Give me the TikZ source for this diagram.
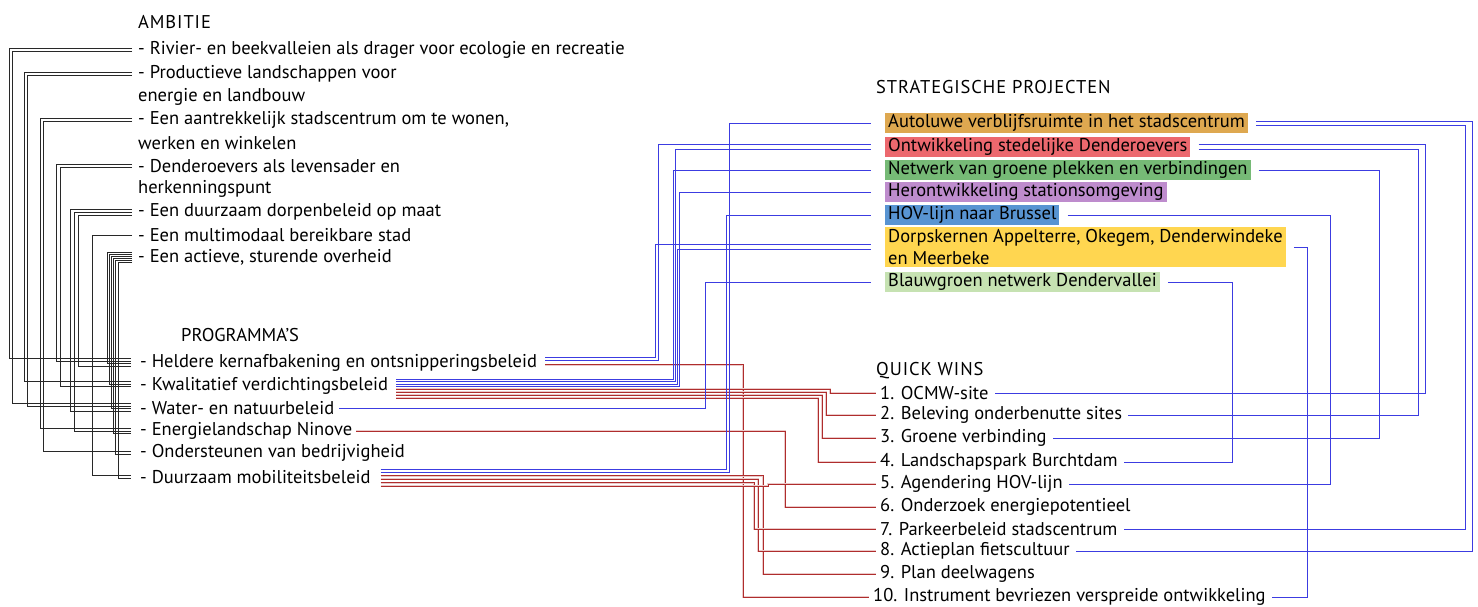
\documentclass[tikz,border=0pt]{standalone}
\usepackage{fontspec}
\setmainfont{PT Sans}
\usetikzlibrary{calc}
\definecolor{cSa}{RGB}{222,168,80}
\definecolor{cSb}{RGB}{236,104,110}
\definecolor{cSc}{RGB}{118,186,118}
\definecolor{cSd}{RGB}{190,140,205}
\definecolor{cSe}{RGB}{88,148,210}
\definecolor{cSf}{RGB}{255,214,80}
\definecolor{cSg}{RGB}{198,226,178}
\definecolor{lb}{RGB}{60,60,225}
\definecolor{lr}{RGB}{175,45,45}
\definecolor{lk}{RGB}{40,40,40}
\newcommand\elbow[4]{\draw[#1] let \p1=(#2), \p2=(#4) in (\p1) -- (#3,\y1) -- (#3,\y2) -- (\p2);}
\begin{document}
\begin{tikzpicture}[x=1pt,y=-1pt,
  txt/.style={inner sep=0pt, anchor=west, font=\fontsize{18.5}{22.5}\selectfont},
  head/.style={txt, font=\fontsize{18.5}{22.5}\selectfont\addfontfeatures{LetterSpace=5}},
  proj/.style={txt, inner xsep=3pt, inner ysep=0pt, minimum height=20pt, fill=#1},
  blk/.style={draw=lk, line width=0.65pt},
  bl/.style={draw=lb, line width=0.8pt},
  rd/.style={draw=lr, line width=0.6pt, preaction={draw=lr!25, line width=2pt}}]
\useasboundingbox (0,0) rectangle (1478,606);
% headings
\node[head] (h1) at (138,22) {AMBITIE};
\node[txt] (h2) at (181,335) {PROGRAMMA'S};
\node[head] (h3) at (876,87) {STRATEGISCHE PROJECTEN};
\node[head] (h4) at (876,371) {QUICK WINS};
% ambities
\node[txt] (a1) at (138,50) {- Rivier- en beekvalleien als drager voor ecologie en recreatie};
\node[txt] (a2) at (138,74) {- Productieve landschappen voor};
\node[txt] (a2b) at (138,97) {energie en landbouw};
\node[txt] (a3) at (138,120) {- Een aantrekkelijk stadscentrum om te wonen,};
\node[txt] (a3b) at (138,143) {werken en winkelen};
\node[txt] (a4) at (138,166) {- Denderoevers als levensader en};
\node[txt] (a4b) at (138,189) {herkenningspunt};
\node[txt] (a5) at (138,212) {- Een duurzaam dorpenbeleid op maat};
\node[txt] (a6) at (138,235) {- Een multimodaal bereikbare stad};
\node[txt] (a7) at (138,257) {- Een actieve, sturende overheid};
% programma's
\node[txt] (p1) at (140,363) {- Heldere kernafbakening en ontsnipperingsbeleid};
\node[txt] (p2) at (140,386) {- Kwalitatief verdichtingsbeleid};
\node[txt] (p3) at (140,408) {- Water- en natuurbeleid};
\node[txt] (p4) at (140,431) {- Energielandschap Ninove};
\node[txt] (p5) at (140,453) {- Ondersteunen van bedrijvigheid};
\node[txt] (p6) at (140,477) {- Duurzaam mobiliteitsbeleid};
% strategische projecten
\node[proj=cSa] (s1) at (885,123) {Autoluwe verblijfsruimte in het stadscentrum};
\node[proj=cSb] (s2) at (885,147) {Ontwikkeling stedelijke Denderoevers};
\node[proj=cSc] (s3) at (885,170) {Netwerk van groene plekken en verbindingen};
\node[proj=cSd] (s4) at (885,192) {Herontwikkeling stationsomgeving};
\node[proj=cSe] (s5) at (885,215) {HOV-lijn naar Brussel};
\node[proj=cSf, align=left, minimum height=40pt] (s6) at (885,247) {Dorpskernen Appelterre, Okegem, Denderwindeke\\en Meerbeke};
\node[proj=cSg] (s7) at (885,282) {Blauwgroen netwerk Dendervallei};
% quick wins
\node[txt] (q1) at (880,393) {1. OCMW-site};
\node[txt] (q2) at (880,415) {2. Beleving onderbenutte sites};
\node[txt] (q3) at (880,438) {3. Groene verbinding};
\node[txt] (q4) at (880,462) {4. Landschapspark Burchtdam};
\node[txt] (q5) at (880,484) {5. Agendering HOV-lijn};
\node[txt] (q6) at (880,507) {6. Onderzoek energiepotentieel};
\node[txt] (q7) at (880,529) {7. Parkeerbeleid stadscentrum};
\node[txt] (q8) at (880,551) {8. Actieplan fietscultuur};
\node[txt] (q9) at (880,574) {9. Plan deelwagens};
\node[txt] (q10) at (873,597) {10. Instrument bevriezen verspreide ontwikkeling};
% ambitie -> programma (black)
\elbow{blk}{[xshift=-6pt,yshift=1.5pt]a1.west}{9pt}{[xshift=-9pt,yshift=4.5pt]p1.west}
\elbow{blk}{[xshift=-6pt,yshift=-1.5pt]a1.west}{12pt}{[xshift=-9pt,yshift=4.5pt]p3.west}
\elbow{blk}{[xshift=-6pt,yshift=1.5pt]a2.west}{24pt}{[xshift=-9pt,yshift=4.5pt]p2.west}
\elbow{blk}{[xshift=-6pt,yshift=-1.5pt]a2.west}{27pt}{[xshift=-9pt,yshift=2pt]p3.west}
\elbow{blk}{[xshift=-6pt,yshift=1.5pt]a3.west}{40pt}{[xshift=-9pt,yshift=2.5pt]p4.west}
\elbow{blk}{[xshift=-6pt,yshift=-1.5pt]a3.west}{43pt}{[xshift=-9pt,yshift=1.5pt]p5.west}
\elbow{blk}{[xshift=-6pt,yshift=1.5pt]a4.west}{56pt}{[xshift=-9pt,yshift=2pt]p1.west}
\elbow{blk}{[xshift=-6pt,yshift=-1.5pt]a4.west}{60pt}{[xshift=-9pt,yshift=-0.5pt]p2.west}
\elbow{blk}{[xshift=-6pt,yshift=3pt]a5.west}{70pt}{[xshift=-9pt,yshift=-3pt]p3.west}
\elbow{blk}{[xshift=-6pt]a5.west}{74pt}{[xshift=-9pt]p4.west}
\elbow{blk}{[xshift=-6pt,yshift=-3pt]a5.west}{78pt}{[xshift=-9pt,yshift=-3pt]p1.west}
\elbow{blk}{[xshift=-6pt]a6.west}{92pt}{[xshift=-9pt,yshift=1.5pt]p6.west}
\elbow{blk}{[xshift=-6pt,yshift=5pt]a7.west}{107pt}{[xshift=-9pt,yshift=-0.5pt]p1.west}
\elbow{blk}{[xshift=-6pt,yshift=3pt]a7.west}{109.2pt}{[xshift=-9pt,yshift=2pt]p2.west}
\elbow{blk}{[xshift=-6pt,yshift=1pt]a7.west}{111.4pt}{[xshift=-9pt,yshift=-0.5pt]p3.west}
\elbow{blk}{[xshift=-6pt,yshift=-1pt]a7.west}{113.6pt}{[xshift=-9pt,yshift=-2.5pt]p4.west}
\elbow{blk}{[xshift=-6pt,yshift=-3pt]a7.west}{115.8pt}{[xshift=-9pt,yshift=-1.5pt]p5.west}
\elbow{blk}{[xshift=-6pt,yshift=-5pt]a7.west}{118pt}{[xshift=-9pt,yshift=-1.5pt]p6.west}
% programma -> quick wins (red)
\elbow{rd}{[xshift=8pt,yshift=-1.5pt]p1.east}{743pt}{[xshift=-4pt]q10.west}
\elbow{rd}{[xshift=8pt,yshift=-3pt]p2.east}{830pt}{[xshift=-4pt]q1.west}
\elbow{rd}{[xshift=8pt,yshift=-6pt]p2.east}{826pt}{[xshift=-4pt]q2.west}
\elbow{rd}{[xshift=8pt,yshift=-9pt]p2.east}{822pt}{[xshift=-4pt]q3.west}
\elbow{rd}{[xshift=8pt,yshift=-12pt]p2.east}{818pt}{[xshift=-4pt]q4.west}
\elbow{rd}{[xshift=4pt]p4.east}{785pt}{[xshift=-4pt]q6.west}
\elbow{rd}{[xshift=10pt,yshift=1.5pt]p6.east}{763pt}{[xshift=-4pt]q9.west}
\elbow{rd}{[xshift=10pt,yshift=-2pt]p6.east}{758pt}{[xshift=-4pt]q8.west}
\elbow{rd}{[xshift=10pt,yshift=-5.5pt]p6.east}{754pt}{[xshift=-4pt]q7.west}
\elbow{rd}{[xshift=10pt,yshift=-9pt]p6.east}{768pt}{[xshift=-4pt]q5.west}
% programma -> strategische projecten (blue)
\elbow{bl}{[xshift=8pt,yshift=5.5pt]p1.east}{655pt}{[xshift=-14pt,yshift=2.5pt]s6.west}
\elbow{bl}{[xshift=8pt,yshift=2.5pt]p1.east}{658pt}{[xshift=-14pt,yshift=2.5pt]s2.west}
\elbow{bl}{[xshift=8pt,yshift=7pt]p2.east}{673pt}{[xshift=-14pt]s3.west}
\elbow{bl}{[xshift=8pt,yshift=4.5pt]p2.east}{675pt}{[xshift=-14pt,yshift=-2.5pt]s2.west}
\elbow{bl}{[xshift=8pt,yshift=2pt]p2.east}{677pt}{[xshift=-14pt,yshift=-2.5pt]s6.west}
\elbow{bl}{[xshift=8pt,yshift=-0.5pt]p2.east}{679pt}{[xshift=-14pt]s4.west}
\elbow{bl}{[xshift=5pt]p3.east}{705pt}{[xshift=-14pt]s7.west}
\elbow{bl}{[xshift=10pt,yshift=7.5pt]p6.east}{726pt}{[xshift=-14pt]s5.west}
\elbow{bl}{[xshift=10pt,yshift=4.5pt]p6.east}{729pt}{[xshift=-14pt]s1.west}
% strategische projecten -> quick wins (blue)
\elbow{bl}{[xshift=8pt,yshift=2pt]s1.east}{1472pt}{[xshift=6pt]q8.east}
\elbow{bl}{[xshift=8pt,yshift=-2pt]s1.east}{1465pt}{[xshift=6pt]q7.east}
\elbow{bl}{[xshift=8pt,yshift=2.5pt]s2.east}{1425pt}{[xshift=6pt]q1.east}
\elbow{bl}{[xshift=8pt,yshift=-2.5pt]s2.east}{1418pt}{[xshift=6pt]q2.east}
\elbow{bl}{[xshift=8pt]s3.east}{1379pt}{[xshift=6pt]q3.east}
\elbow{bl}{[xshift=8pt]s5.east}{1330pt}{[xshift=6pt]q5.east}
\elbow{bl}{[xshift=8pt]s6.east}{1307pt}{[xshift=6pt]q10.east}
\elbow{bl}{[xshift=8pt]s7.east}{1232pt}{[xshift=6pt]q4.east}
\end{tikzpicture}
\end{document}
